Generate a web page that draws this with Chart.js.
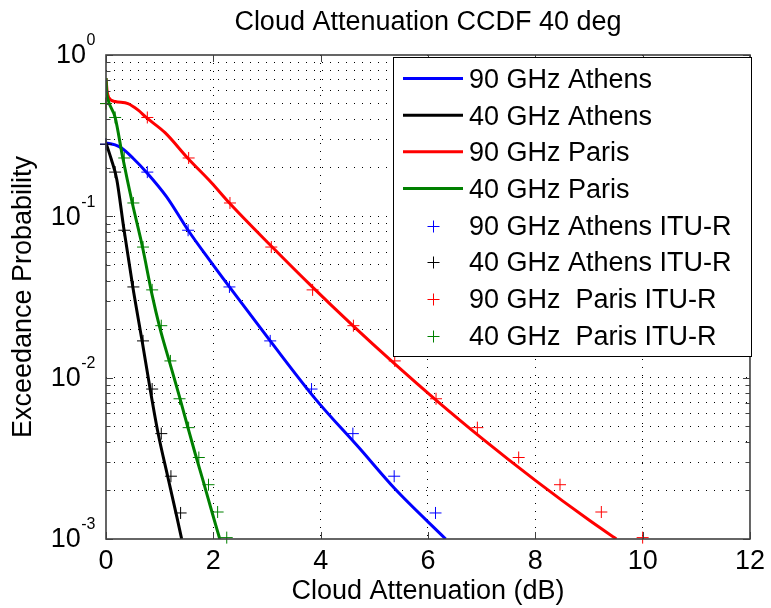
<!DOCTYPE html>
<html>
<head>
<meta charset="utf-8">
<script src="https://cdn.jsdelivr.net/npm/chart.js@4.4.1/dist/chart.umd.min.js"></script>
<style>
  html, body { margin: 0; padding: 0; background: #ffffff; }
  #wrap { width: 771px; height: 608px; }
</style>
</head>
<body>
<div id="wrap"><canvas id="c" width="771" height="608"></canvas></div>
<script>
// ---------------- data ----------------
const titleText = 'Cloud Attenuation CCDF 40 deg';
const xTitleText = 'Cloud Attenuation (dB)';
const yTitleText = 'Exceedance Probability';

const seriesNames = [
  '90 GHz Athens', '40 GHz Athens', '90 GHz Paris', '40 GHz Paris',
  '90 GHz Athens ITU-R', '40 GHz Athens ITU-R', '90 GHz  Paris ITU-R', '40 GHz  Paris ITU-R'
];
const seriesColors = ['#0000ff', '#000000', '#ff0000', '#008000', '#0000ff', '#000000', '#ff0000', '#008000'];

// measured curves (attenuation dB, exceedance probability)
const athens90X = [0, 0.17, 0.29, 0.5, 0.77, 1.13, 1.53, 1.93, 2.3, 3.06, 3.92, 4.72, 5.37, 6.33];
const athens90P = [0.285, 0.277, 0.265, 0.23, 0.185, 0.132, 0.082, 0.0535, 0.0365, 0.0169, 0.00726, 0.00366, 0.00207, 0.001];

const athens40X = [0, 0.1, 0.2, 0.33, 0.5, 0.67, 0.82, 0.97, 1.15, 1.32, 1.41];
const athens40P = [0.285, 0.225, 0.17, 0.085, 0.0365, 0.0171, 0.0086, 0.00454, 0.00244, 0.00137, 0.001];

const paris90X = [0, 0.02, 0.05, 0.17, 0.41, 0.6, 0.75, 1.1, 1.52, 1.97, 2.3, 3.06, 3.83, 4.6, 5.37, 6.15, 7.0, 8.0, 9.0, 9.51];
const paris90P = [0.72, 0.6, 0.545, 0.515, 0.5, 0.455, 0.41, 0.33, 0.23, 0.161, 0.121, 0.0664, 0.0369, 0.021, 0.01225, 0.00726, 0.00422, 0.00231, 0.00131, 0.001];

const paris40X = [0, 0.01, 0.04, 0.17, 0.31, 0.49, 0.68, 0.86, 1.0, 1.19, 1.37, 1.52, 1.66, 1.81, 1.98, 2.12];
const paris40P = [0.72, 0.6, 0.526, 0.41, 0.233, 0.121, 0.0645, 0.0325, 0.0206, 0.0123, 0.0076, 0.005, 0.0034, 0.00229, 0.00145, 0.001];

// ITU-R model points
const ituAthensP = [0.28, 0.188, 0.082, 0.0365, 0.0169, 0.0085, 0.0045, 0.00245, 0.00145];
const ituAthens90X = [0, 0.77, 1.53, 2.3, 3.06, 3.83, 4.6, 5.37, 6.14];
const ituAthens40X = [0, 0.17, 0.34, 0.51, 0.69, 0.86, 1.03, 1.21, 1.39];

const ituParisP = [0.5, 0.41, 0.23, 0.121, 0.0645, 0.035, 0.021, 0.0127, 0.0074, 0.0049, 0.0032, 0.00217, 0.00147, 0.00102];
const ituParis90X = [0, 0.77, 1.54, 2.31, 3.08, 3.85, 4.61, 5.38, 6.15, 6.92, 7.69, 8.46, 9.23, 10.0];
const ituParis40X = [0, 0.17, 0.34, 0.51, 0.69, 0.86, 1.03, 1.2, 1.37, 1.54, 1.73, 1.91, 2.08, 2.25];

// axes
const xMin = 0, xMax = 12, xStep = 2;
const yMin = 0.001, yMax = 1;
const yTickValues = [1, 0.1, 0.01, 0.001];
const yTickExponents = ['0', '-1', '-2', '-3'];
const yGridValues = [
  0.001, 0.002, 0.003, 0.004, 0.005, 0.006, 0.007, 0.008, 0.009,
  0.01, 0.02, 0.03, 0.04, 0.05, 0.06, 0.07, 0.08, 0.09,
  0.1, 0.2, 0.3, 0.4, 0.5, 0.6, 0.7, 0.8, 0.9, 1
];

// ---------------- helpers ----------------
const FONT = "'Liberation Sans', Arial, Helvetica, sans-serif";
const zip = (xs, ps) => xs.map((x, i) => ({ x: x, y: ps[i] }));

const curveSets = [
  zip(athens90X, athens90P), zip(athens40X, athens40P),
  zip(paris90X, paris90P), zip(paris40X, paris40P)
];
const ituSets = [
  zip(ituAthens90X, ituAthensP), zip(ituAthens40X, ituAthensP),
  zip(ituParis90X, ituParisP), zip(ituParis40X, ituParisP)
];

const datasets = [];
curveSets.forEach((d, i) => {
  datasets.push({
    label: seriesNames[i], data: d, showLine: true,
    borderColor: seriesColors[i], backgroundColor: seriesColors[i],
    borderWidth: 3, pointRadius: 0, cubicInterpolationMode: 'monotone',
    order: 20 - i
  });
});
ituSets.forEach((d, j) => {
  const i = j + 4;
  datasets.push({
    label: seriesNames[i], data: d, showLine: false,
    borderColor: seriesColors[i], backgroundColor: seriesColors[i],
    pointStyle: 'cross', pointRadius: 6, pointBorderWidth: 1, borderWidth: 1,
    clip: false, order: 20 - i
  });
});

// y tick labels with superscripts
const yLabelPlugin = {
  id: 'yLabels',
  afterDraw(chart) {
    const ctx = chart.ctx, y = chart.scales.y;
    ctx.save();
    ctx.fillStyle = '#000';
    ctx.textBaseline = 'middle';
    ctx.textAlign = 'left';
    yTickValues.forEach((v, i) => {
      const py = y.getPixelForValue(v);
      ctx.font = '27px ' + FONT;
      const wb = ctx.measureText('10').width;
      ctx.font = '16px ' + FONT;
      const we = ctx.measureText(yTickExponents[i]).width;
      const right = 95;
      const xb = right - we - wb;
      ctx.font = '27px ' + FONT;
      ctx.fillText('10', xb, py + 1);
      ctx.font = '16px ' + FONT;
      ctx.fillText(yTickExponents[i], xb + wb + 0.5, py - 14);
    });
    ctx.restore();
  }
};

// axes box and inward ticks
const framePlugin = {
  id: 'frame',
  afterDatasetsDraw(chart) {
    const ctx = chart.ctx, a = chart.chartArea, x = chart.scales.x, y = chart.scales.y;
    ctx.save();
    ctx.strokeStyle = '#404040';
    ctx.lineWidth = 1;
    ctx.beginPath();
    x.ticks.forEach(t => {
      const px = Math.round(x.getPixelForValue(t.value)) + 0.5;
      ctx.moveTo(px, a.bottom); ctx.lineTo(px, a.bottom - 7);
      ctx.moveTo(px, a.top); ctx.lineTo(px, a.top + 7);
    });
    yGridValues.forEach(v => {
      const py = Math.round(y.getPixelForValue(v)) + 0.5;
      const len = yTickValues.includes(v) ? 7 : 4.5;
      ctx.moveTo(a.left, py); ctx.lineTo(a.left + len, py);
      ctx.moveTo(a.right, py); ctx.lineTo(a.right - len, py);
    });
    ctx.stroke();
    ctx.lineWidth = 1.6;
    ctx.strokeRect(a.left, a.top, a.right - a.left, a.bottom - a.top);
    ctx.restore();
  }
};

// legend box inside the plot
const legendPlugin = {
  id: 'boxLegend',
  afterDraw(chart) {
    const ctx = chart.ctx;
    const L = 393, T = 57, R = 752, B = 357;
    ctx.save();
    ctx.fillStyle = '#ffffff';
    ctx.fillRect(L, T, R - L, B - T);
    ctx.strokeStyle = '#000000';
    ctx.lineWidth = 1;
    ctx.strokeRect(L + 0.5, T + 0.5, R - L - 1, B - T - 1);
    chart.data.datasets.forEach((ds, i) => {
      const cy = 80.5 + i * 36.67;
      if (ds.showLine) {
        ctx.strokeStyle = ds.borderColor;
        ctx.lineWidth = 3;
        ctx.beginPath();
        ctx.moveTo(403, cy - 2); ctx.lineTo(463, cy - 2);
        ctx.stroke();
      } else {
        ctx.strokeStyle = ds.borderColor;
        ctx.lineWidth = 1;
        const cx = 433.5, my = Math.round(cy - 1.5) + 0.5;
        ctx.beginPath();
        ctx.moveTo(cx - 6, my); ctx.lineTo(cx + 6, my);
        ctx.moveTo(cx, my - 6); ctx.lineTo(cx, my + 6);
        ctx.stroke();
      }
      ctx.fillStyle = '#000';
      ctx.font = '27px ' + FONT;
      ctx.textBaseline = 'middle';
      ctx.textAlign = 'left';
      ctx.fillText(ds.label, 469, cy);
    });
    ctx.restore();
  }
};

Chart.defaults.font.family = FONT;
Chart.defaults.color = '#000';

new Chart(document.getElementById('c'), {
  type: 'scatter',
  data: { datasets: datasets },
  options: {
    responsive: false,
    animation: false,
    events: [],
    devicePixelRatio: 1,
    layout: { padding: { left: 0, right: 19, top: 0, bottom: 0 } },
    plugins: {
      legend: { display: false },
      tooltip: { enabled: false },
      title: {
        display: true, text: titleText, fullSize: false,
        font: { size: 27, weight: 'normal' }, color: '#000',
        padding: { top: 6, bottom: 16.6 }
      }
    },
    scales: {
      x: {
        type: 'linear', min: xMin, max: xMax,
        ticks: { stepSize: xStep, font: { size: 27 }, color: '#000', padding: 6, maxRotation: 0 },
        grid: {
          drawTicks: false, lineWidth: 1,
          color: c => (c.tick && (c.tick.value === xMin || c.tick.value === xMax)) ? 'rgba(0,0,0,0)' : '#000'
        },
        border: { display: false, dash: [1, 7] },
        title: { display: true, text: xTitleText, font: { size: 27 }, color: '#000', padding: { top: 0, bottom: 0 } },
        afterFit: s => { s.height = 69; }
      },
      y: {
        type: 'logarithmic', min: yMin, max: yMax,
        ticks: { display: false },
        afterBuildTicks: s => { s.ticks = yGridValues.map(v => ({ value: v, major: yTickValues.includes(v) })); },
        grid: {
          drawTicks: false, lineWidth: 1,
          color: c => (c.tick && (c.tick.value === yMin || c.tick.value === yMax)) ? 'rgba(0,0,0,0)' : '#000'
        },
        border: { display: false, dash: [1, 7] },
        title: { display: true, text: yTitleText, font: { size: 27 }, color: '#000', padding: { top: 7, bottom: 0 } },
        afterFit: s => { s.width = 106; }
      }
    }
  },
  plugins: [framePlugin, legendPlugin, yLabelPlugin]
});
</script>
</body>
</html>
